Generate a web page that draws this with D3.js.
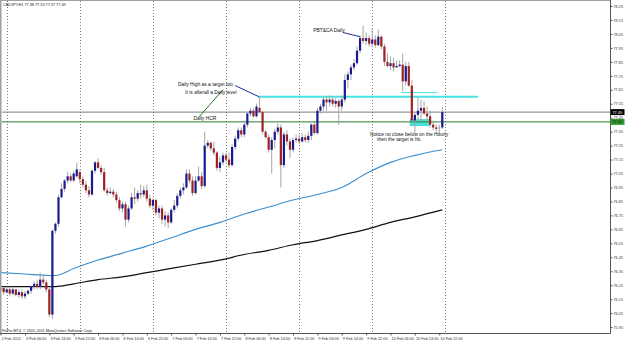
<!DOCTYPE html>
<html><head><meta charset="utf-8">
<script src="https://cdn.jsdelivr.net/npm/d3@7"></script>
<style>html,body{margin:0;padding:0;background:#fff;overflow:hidden}svg{display:block}</style>
</head><body><svg id="c" width="625" height="340"></svg>
<script>
// ---------- DATA (CADJPY H1, bar index 0 = 3 Feb 2012 00:00) ----------
const barIndex = d3.range(-2, 144);
const open = [76.21,76.23,76.20,76.22,76.19,76.22,76.18,76.20,76.17,76.19,76.21,76.24,76.26,76.24,76.29,76.27,76.22,76.04,76.64,76.69,76.88,76.94,77.00,77.03,77.00,77.03,77.06,77.01,76.97,76.93,76.90,77.07,77.13,77.09,77.06,76.93,76.91,76.92,76.90,76.86,76.80,76.83,76.72,76.80,76.88,76.87,76.91,76.90,76.93,76.87,76.82,76.86,76.77,76.80,76.72,76.75,76.70,76.79,76.82,76.89,76.93,76.95,77.05,77.00,76.91,77.00,77.03,76.96,77.25,77.27,77.23,77.20,77.09,77.13,77.18,77.15,77.11,77.24,77.30,77.36,77.33,77.40,77.48,77.50,77.46,77.52,77.49,77.35,77.31,77.22,77.29,77.35,77.38,77.11,77.33,77.28,77.22,77.29,77.30,77.28,77.31,77.29,77.32,77.40,77.34,77.50,77.53,77.58,77.56,77.58,77.55,77.57,77.53,77.58,77.72,77.76,77.81,77.84,77.93,78.02,78.00,78.02,77.98,78.01,77.97,78.03,77.96,77.85,77.82,77.84,77.81,77.82,77.83,77.71,77.82,77.68,77.43,77.47,77.50,77.52,77.48,77.46,77.40,77.38,77.38,77.38];
const high = [76.25,76.24,76.24,76.24,76.23,76.22,76.22,76.22,76.21,76.22,76.25,76.28,76.29,76.34,76.33,76.29,76.23,76.65,76.70,76.90,76.98,77.01,77.06,77.05,77.07,77.13,77.08,77.03,77.00,76.96,77.08,77.14,77.16,77.11,77.09,76.95,76.95,76.94,76.92,76.88,76.85,76.85,76.82,76.91,76.95,76.93,76.97,76.96,76.97,76.90,76.87,76.87,76.82,76.82,76.78,76.77,76.80,76.86,76.91,76.95,76.98,77.08,77.08,77.03,77.03,77.10,77.06,77.35,77.29,77.28,77.28,77.21,77.17,77.20,77.20,77.20,77.26,77.32,77.38,77.38,77.43,77.49,77.52,77.52,77.55,77.60,77.50,77.36,77.33,77.31,77.37,77.41,77.40,77.35,77.36,77.30,77.31,77.33,77.33,77.34,77.33,77.35,77.41,77.42,77.52,77.55,77.60,77.60,77.61,77.60,77.59,77.58,77.61,77.76,77.78,77.83,77.87,77.96,78.04,78.11,78.06,78.04,78.09,78.04,78.08,78.04,77.98,77.91,77.89,77.88,77.86,77.86,77.91,77.85,77.85,77.72,77.49,77.60,77.58,77.57,77.53,77.50,77.43,77.40,77.40,77.53];
const low = [76.19,76.18,76.19,76.17,76.18,76.17,76.16,76.15,76.15,76.18,76.19,76.22,76.22,76.22,76.25,76.20,76.02,76.01,76.62,76.67,76.87,76.92,76.98,76.99,76.99,77.02,76.98,76.95,76.91,76.88,76.89,77.05,77.08,77.04,76.92,76.89,76.90,76.88,76.84,76.78,76.77,76.67,76.70,76.79,76.83,76.85,76.87,76.88,76.85,76.80,76.79,76.75,76.73,76.69,76.67,76.66,76.69,76.77,76.80,76.87,76.90,76.94,76.98,76.89,76.90,76.99,76.94,76.95,77.23,77.21,77.18,77.07,77.06,77.11,77.13,77.09,77.10,77.22,77.28,77.31,77.31,77.38,77.46,77.45,77.45,77.48,77.33,77.30,77.20,77.05,77.23,77.33,76.95,77.09,77.25,77.16,77.20,77.27,77.26,77.27,77.27,77.27,77.29,77.33,77.33,77.48,77.50,77.50,77.53,77.53,77.52,77.40,77.50,77.56,77.66,77.72,77.79,77.83,77.91,77.98,77.97,77.96,77.96,77.95,77.96,77.94,77.82,77.81,77.79,77.78,77.81,77.81,77.64,77.68,77.67,77.42,77.34,77.43,77.43,77.47,77.43,77.38,77.36,77.35,77.33,77.37];
const close = [76.23,76.20,76.22,76.19,76.22,76.18,76.20,76.17,76.19,76.21,76.24,76.26,76.24,76.29,76.27,76.22,76.04,76.64,76.69,76.88,76.94,77.00,77.03,77.00,77.05,77.08,77.01,76.97,76.93,76.90,77.07,77.13,77.09,77.06,76.93,76.91,76.92,76.90,76.86,76.80,76.83,76.72,76.80,76.88,76.87,76.91,76.90,76.93,76.87,76.82,76.86,76.77,76.80,76.72,76.75,76.70,76.79,76.82,76.89,76.93,76.95,77.05,77.00,76.91,77.00,77.03,76.96,77.25,77.27,77.23,77.20,77.09,77.13,77.18,77.15,77.11,77.24,77.30,77.36,77.33,77.40,77.48,77.50,77.46,77.53,77.49,77.35,77.31,77.22,77.29,77.35,77.38,77.11,77.33,77.28,77.22,77.29,77.30,77.28,77.31,77.29,77.32,77.40,77.34,77.50,77.53,77.58,77.56,77.58,77.55,77.57,77.53,77.58,77.72,77.76,77.81,77.84,77.93,78.02,78.00,78.02,77.98,78.01,77.97,78.03,77.96,77.85,77.82,77.84,77.81,77.82,77.83,77.71,77.82,77.68,77.43,77.47,77.50,77.52,77.48,77.46,77.40,77.38,77.37,77.38,77.49];

const maBlueIndex = [-2,6,14,16,22,30,38,46,54,62,70,78,86,94,102,110,118,126,134,143];
const maBlue = [76.34,76.33,76.32,76.32,76.37,76.43,76.48,76.53,76.59,76.65,76.70,76.76,76.81,76.86,76.90,76.95,77.05,77.13,77.18,77.22];
const maBlackIndex = [-2,14,16,22,30,38,46,54,62,70,78,86,94,102,110,118,126,134,143];
const maBlack = [76.24,76.24,76.24,76.26,76.29,76.31,76.34,76.37,76.40,76.43,76.47,76.50,76.54,76.57,76.61,76.65,76.70,76.74,76.79];

const priceTicks = [75.95,76.05,76.15,76.25,76.35,76.45,76.55,76.65,76.75,76.85,76.95,77.05,77.15,77.25,77.35,77.45,77.55,77.65,77.75,77.85,77.95,78.05,78.15,78.25];
const timeLabelIndex = [-2,6,14,22,30,38,46,54,62,70,78,86,94,102,110,118,126,134,142];
const timeLabels = ["2 Feb 2012","3 Feb 06:00","3 Feb 14:00","3 Feb 22:00","6 Feb 06:00","6 Feb 14:00","6 Feb 22:00","7 Feb 06:00","7 Feb 14:00","7 Feb 22:00","8 Feb 06:00","8 Feb 14:00","8 Feb 22:00","9 Feb 06:00","9 Feb 14:00","9 Feb 22:00","10 Feb 06:00","10 Feb 14:00","10 Feb 22:00"];
const dayGridIndex = [0,24,48,72,96,120,144];

const headerText = "CADJPY,H1  77.38 77.53 77.37 77.49";
const copyrightText = "FxPro MT4, \u00A9 2001-2011 MetaQuotes Software Corp.";
const lastPrice = 77.49;
const hcrPrice = 77.42;
const dailyHighPrice = 77.60;
const dailyHighFrom = 82.5, dailyHighTo = 154.7;
const smallLinePrice = 77.63, smallLineFrom = 129.5, smallLineTo = 141.3;
const zoneFrom = 132.3, zoneTo = 138.9, zoneTop = 77.44, zoneBottom = 77.39;

// annotations: [index, price]
const notes = [
  {text:"Daily High as a target too.", at:[56.2,77.675]},
  {text:"It is afterall a Daily level", at:[58.6,77.62]},
  {text:"Daily HCR", at:[61.3,77.435]},
  {text:"PBT&CA Daily", at:[100.6,78.065]},
  {text:"Notice no close below on the Hourly", at:[119.3,77.32]},
  {text:"then the target is hit.", at:[121.6,77.28]}
];
const noteLines = [
  {from:[75.0,77.68], to:[82.8,77.60], color:"#1f2a9c"},
  {from:[63.1,77.455], to:[71.0,77.65], color:"#1f7a1f"},
  {from:[110.4,78.06], to:[116.0,78.03], color:"#1f2a9c"}
];

// ---------- CHART ----------
const W = 625, H = 340, axisX = 610.5, axisY = 333.5;
const svg = d3.select("#c");
const x = d3.scaleLinear().domain([0, 143]).range([6.7, 442.3]);
const y = d3.scaleLinear().domain([75.95, 78.25]).range([327.1, 6]);
const font = "'Liberation Sans', Arial, sans-serif";

svg.append("rect").attr("width", W).attr("height", H).attr("fill", "#fff");

const clip = svg.append("defs").append("clipPath").attr("id","plot")
  .append("rect").attr("x",1.5).attr("y",1).attr("width",axisX-1.5).attr("height",axisY-1);
const plot = svg.append("g").attr("clip-path","url(#plot)");

// day grid
plot.selectAll("line.grid").data(dayGridIndex).join("line")
  .attr("x1", d => Math.round(x(d)) + 0.5).attr("x2", d => Math.round(x(d)) + 0.5)
  .attr("y1", 1).attr("y2", axisY)
  .attr("stroke", "#7a7a7a").attr("stroke-width", 1).attr("stroke-dasharray", "1,2");

// zone rect
plot.append("rect")
  .attr("x", x(zoneFrom)).attr("width", x(zoneTo) - x(zoneFrom))
  .attr("y", y(zoneTop)).attr("height", y(zoneBottom) - y(zoneTop))
  .attr("fill", "#48e0d8");

// horizontal levels
plot.append("line").attr("x1", 1.5).attr("x2", axisX).attr("y1", y(lastPrice)).attr("y2", y(lastPrice))
  .attr("stroke", "#7c7c7c").attr("stroke-width", 1);
plot.append("line").attr("x1", 1.5).attr("x2", axisX).attr("y1", y(hcrPrice)).attr("y2", y(hcrPrice))
  .attr("stroke", "#2b7d2b").attr("stroke-width", 1);
plot.append("line").attr("x1", x(dailyHighFrom)).attr("x2", x(dailyHighTo))
  .attr("y1", y(dailyHighPrice)).attr("y2", y(dailyHighPrice))
  .attr("stroke", "#4ae3e3").attr("stroke-width", 2);
plot.append("line").attr("x1", x(smallLineFrom)).attr("x2", x(smallLineTo))
  .attr("y1", y(smallLinePrice)).attr("y2", y(smallLinePrice))
  .attr("stroke", "#4ae3e3").attr("stroke-width", 1);

// moving averages
const lineGen = d3.line().curve(d3.curveMonotoneX);
plot.append("path").attr("d", lineGen(maBlueIndex.map((d,i) => [x(d), y(maBlue[i])])))
  .attr("fill","none").attr("stroke","#3a8fd0").attr("stroke-width",1.1);
plot.append("path").attr("d", lineGen(maBlackIndex.map((d,i) => [x(d), y(maBlack[i])])))
  .attr("fill","none").attr("stroke","#111").attr("stroke-width",1.2);

// candles
const bars = barIndex.map((d,i) => ({i:d, o:open[i], h:high[i], l:low[i], c:close[i]}));
const g = plot.append("g");
g.selectAll("line.wick").data(bars).join("line")
  .attr("x1", d => x(d.i)).attr("x2", d => x(d.i))
  .attr("y1", d => y(d.h)).attr("y2", d => y(d.l))
  .attr("stroke", "#a6a6a6").attr("stroke-width", 1);
g.selectAll("rect.body").data(bars).join("rect")
  .attr("x", d => x(d.i) - 1.1).attr("width", 2.2)
  .attr("y", d => y(Math.max(d.o, d.c)))
  .attr("height", d => Math.max(1, Math.abs(y(d.o) - y(d.c))))
  .attr("fill", d => Math.abs(d.c - d.o) < 0.005 ? "#a6a6a6" : (d.c > d.o ? "#1a1a8f" : "#9e2222"));

// annotation lines & text
plot.selectAll("line.note").data(noteLines).join("line")
  .attr("x1", d => x(d.from[0])).attr("y1", d => y(d.from[1]))
  .attr("x2", d => x(d.to[0])).attr("y2", d => y(d.to[1]))
  .attr("stroke", d => d.color).attr("stroke-width", 1);
plot.selectAll("text.note").data(notes).join("text")
  .attr("x", d => x(d.at[0])).attr("y", d => y(d.at[1]))
  .attr("font-family", font).attr("font-size", 4.9).attr("fill", "#111")
  .text(d => d.text);

// header & copyright
svg.append("text").attr("x", 3).attr("y", 6).attr("font-family", font).attr("font-size", 3.8)
  .attr("fill", "#222").text(headerText);
svg.append("text").attr("x", 2).attr("y", 331.5).attr("font-family", font).attr("font-size", 3.8)
  .attr("fill", "#222").text(copyrightText);

// frame
svg.append("line").attr("x1", 0.75).attr("x2", 0.75).attr("y1", 0).attr("y2", axisY).attr("stroke", "#a0a0a0").attr("stroke-width", 1.5);
svg.append("line").attr("x1", 0).attr("x2", axisX).attr("y1", 0.5).attr("y2", 0.5).attr("stroke", "#a0a0a0").attr("stroke-width", 1);
svg.append("line").attr("x1", axisX).attr("x2", axisX).attr("y1", 0).attr("y2", axisY).attr("stroke", "#555");
svg.append("line").attr("x1", 0).attr("x2", axisX).attr("y1", axisY).attr("y2", axisY).attr("stroke", "#555");

// price axis
const yAxis = d3.axisRight(y).tickValues(priceTicks).tickSize(2).tickPadding(1).tickFormat(d3.format(".2f"));
const ya = svg.append("g").attr("transform", `translate(${axisX},0)`).call(yAxis);
ya.select(".domain").remove();
ya.selectAll("line").attr("stroke", "#555");
ya.selectAll("text").attr("font-family", font).attr("font-size", 3.8).attr("fill", "#333");

// time axis
const xAxis = d3.axisBottom(x).tickValues(timeLabelIndex).tickSize(2).tickFormat((d,i) => timeLabels[i]);
const xa = svg.append("g").attr("transform", `translate(0,${axisY})`).call(xAxis);
xa.select(".domain").remove();
xa.selectAll("line").attr("stroke", "#555");
xa.selectAll("text").attr("font-family", font).attr("font-size", 3.8).attr("fill", "#333")
  .attr("text-anchor", "start").attr("dx", "0.6").attr("dy", "0.4em");

// price boxes
const boxes = [{p:lastPrice, bg:"#000", fg:"#fff"}, {p:hcrPrice, bg:"#2f9a2f", fg:"#0a0a0a"}];
const bx = svg.selectAll("g.box").data(boxes).join("g");
bx.append("rect").attr("x", axisX).attr("y", d => y(d.p) - 3).attr("width", 14).attr("height", 6).attr("fill", d => d.bg);
bx.append("text").attr("x", axisX + 2).attr("y", d => y(d.p) + 1.4).attr("font-family", font).attr("font-size", 3.8)
  .attr("fill", d => d.fg).text(d => d3.format(".2f")(d.p));
</script></body></html>
